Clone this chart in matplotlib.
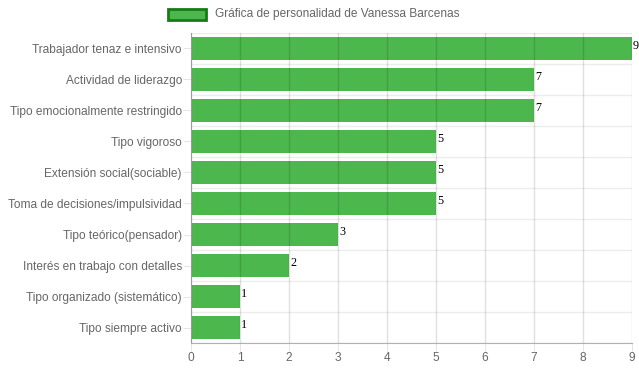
import matplotlib
matplotlib.use("Agg")
import matplotlib.pyplot as plt
from matplotlib.patches import Rectangle

categories = [
    "Trabajador tenaz e intensivo",
    "Actividad de liderazgo",
    "Tipo emocionalmente restringido",
    "Tipo vigoroso",
    "Extensión social(sociable)",
    "Toma de decisiones/impulsividad",
    "Tipo teórico(pensador)",
    "Interés en trabajo con detalles",
    "Tipo organizado (sistemático)",
    "Tipo siempre activo",
]
values = [9, 7, 7, 5, 5, 5, 3, 2, 1, 1]
legend_label = "Gráfica de personalidad de Vanessa Barcenas"
xticks = list(range(0, 10))

W, H = 639, 372
fig = plt.figure(figsize=(W / 100, H / 100), dpi=100)
left, right, top, bottom = 191, 632, 33, 343
ax = fig.add_axes([left / W, 1 - bottom / H, (right - left) / W, (bottom - top) / H])

bar_color = "#4CB74C"
n = len(categories)
ypos = list(range(n))
ax.barh(ypos, values, height=0.72, color=bar_color, zorder=2)
ax.set_ylim(n - 0.5, -0.5)
ax.set_xlim(0, 9)

# grid
for x in xticks:
    ax.axvline(x, color="#000000", alpha=0.12, lw=1, zorder=3)
for i in range(n + 1):
    ax.axhline(i - 0.5, color="#000000", alpha=0.07, lw=1, zorder=1)

ax.set_yticks(ypos)
ax.set_yticklabels(categories, fontsize=8.55, color="#666666", family="Liberation Sans")
ax.set_xticks(xticks)
ax.set_xticklabels([str(x) for x in xticks], fontsize=8.55, color="#666666", family="Liberation Sans")
ax.tick_params(axis="y", length=5.5, color=(0, 0, 0, 0.1), pad=1)
ax.tick_params(axis="x", length=5.5, color=(0, 0, 0, 0.1), pad=1)

for s in ["top", "right"]:
    ax.spines[s].set_visible(False)
ax.spines["left"].set_color("#b0b0b0")
ax.spines["bottom"].set_color("#b0b0b0")

for y, v in zip(ypos, values):
    ax.text(v + 0.02, y - 0.08, str(v), fontsize=8.7, family="Liberation Serif",
            color="#000000", va="center", ha="left", zorder=4)

# legend
fig.patches.append(Rectangle((168 / W, 1 - 20 / H), 38 / W, 11 / H,
                             transform=fig.transFigure, facecolor=bar_color,
                             edgecolor="#1a7a1a", lw=2))
fig.text(215 / W, 1 - 14.5 / H, legend_label, fontsize=8.55, color="#666666",
         family="Liberation Sans", va="center", ha="left")

fig.savefig("out.png", dpi=100)
